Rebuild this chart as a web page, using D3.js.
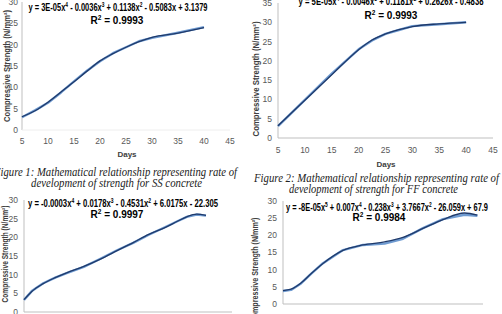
<!DOCTYPE html>
<html><head><meta charset="utf-8">
<script src="https://cdn.jsdelivr.net/npm/d3@7"></script>
<style>html,body{margin:0;padding:0;background:#fff;overflow:hidden}</style>
</head><body>
<svg id="c" width="502" height="314"></svg>
<script>
// ---- data ----
const yTicks30 = [0, 5, 10, 15, 20, 25, 30];
const yTicks35 = [0, 5, 10, 15, 20, 25, 30, 35];
const xTicks5to45 = [5, 10, 15, 20, 25, 30, 35, 40, 45];
const xTicks4 = [5, 10, 15, 20, 25, 30];

const ssDays  = [5, 7.5, 10, 12.5, 15, 17.5, 20, 22.5, 25, 27.5, 30, 35, 40];
const ssData  = [3.0, 4.6, 6.4, 8.8, 11.4, 13.9, 16.1, 18.0, 19.4, 20.8, 21.6, 22.8, 24.1];
const ssTrend = [3.1, 4.5, 6.5, 8.9, 11.3, 13.8, 16.2, 17.9, 19.4, 20.7, 21.7, 22.7, 24.0];

const ffDays  = [5, 10, 15, 20, 22.5, 25, 27.5, 30, 35, 40];
const ffData  = [3.1, 9.9, 16.7, 23.0, 25.3, 27.0, 28.0, 29.0, 29.5, 30.0];
const ffTrend = [3.2, 9.8, 16.4, 22.9, 25.4, 27.0, 28.1, 28.9, 29.6, 30.0];

const p3Days  = [5, 6.5, 8.7, 11, 13.2, 16.5, 19.6, 23, 26, 29, 32.4, 34.5, 36.3, 38.2, 40];
const p3Data  = [3.2, 5.6, 7.7, 9.2, 10.4, 12.1, 14.2, 16.6, 18.5, 20.7, 22.9, 24.3, 25.5, 26.1, 25.8];
const p3Trend = [3.3, 5.5, 7.6, 9.2, 10.5, 12.2, 14.1, 16.5, 18.6, 20.8, 22.8, 24.3, 25.5, 26.2, 25.9];

const p4Days  = [5, 6, 7.25, 8.5, 10, 12.5, 15, 17.7, 20, 22.5, 25, 27.7, 29.3];
const p4Data  = [3.8, 4.1, 6.0, 8.8, 11.9, 15.7, 17.2, 17.6, 19.0, 22.1, 24.7, 26.0, 25.7];
const p4Trend = [3.9, 4.3, 6.1, 8.8, 11.8, 15.6, 17.2, 18.1, 19.4, 22.0, 24.6, 26.5, 25.9];

const yLabel = "Compressive Strength (N/mm²)";
const eq1 = [["y = 3E-05x",""],["4","s"],[" - 0.0036x",""],["3","s"],[" + 0.1138x",""],["2","s"],[" - 0.5083x + 3.1379",""]];
const eq2 = [["y = 5E-05x",""],["4","s"],[" - 0.0046x",""],["3","s"],[" + 0.1181x",""],["2","s"],[" + 0.2626x - 0.4838",""]];
const eq3 = [["y = -0.0003x",""],["4","s"],[" + 0.0178x",""],["3","s"],[" - 0.4531x",""],["2","s"],[" + 6.0175x - 22.305",""]];
const eq4 = [["y = -8E-05x",""],["5","s"],[" + 0.007x",""],["4","s"],[" - 0.238x",""],["3","s"],[" + 3.7667x",""],["2","s"],[" - 26.059x + 67.9",""]];
const captions = [
  ["Figure 1:  Mathematical relationship representing rate of", "development of strength for SS concrete"],
  ["Figure 2:  Mathematical relationship representing rate of", "development of strength for FF concrete"]
];

const svg = d3.select("#c");
svg.append("rect").attr("width",502).attr("height",314).attr("fill","#fff");
const SANS = "'Liberation Sans Narrow','Liberation Sans',Arial,sans-serif";

function panel(c) {
  const x = d3.scaleLinear().domain(c.xd).range(c.xr);
  const y = d3.scaleLinear().domain(c.yd).range(c.yr);
  const g = svg.append("g");
  g.append("line").attr("x1",x(c.xd[0])).attr("x2",x(c.xd[0])).attr("y1",y(c.yd[1])).attr("y2",y(0))
    .attr("stroke","#bfbfbf").attr("stroke-width",1);
  g.append("line").attr("x1",x(c.xd[0])).attr("x2",x(c.xd[1])).attr("y1",y(0)).attr("y2",y(0))
    .attr("stroke", c.xLine).attr("stroke-width",1);
  g.selectAll(null).data(c.yt).enter().append("text")
    .attr("x", c.ylx).attr("y", d => y(d)).attr("dy","0.35em")
    .attr("text-anchor","end").attr("font-family",SANS).attr("font-size",8.5).attr("fill","#595959")
    .text(d => d);
  g.selectAll(null).data(c.xt).enter().append("text")
    .attr("x", d => x(d)).attr("y", c.xly).attr("dy","0.35em")
    .attr("text-anchor","middle").attr("font-family",SANS).attr("font-size",8.5).attr("fill","#595959")
    .text(d => d);
  if (c.days) g.append("text").attr("x",c.days[0]).attr("y",c.days[1]).attr("dy","0.35em")
    .attr("text-anchor","middle").attr("font-family",SANS).attr("font-size",8).attr("font-weight","bold")
    .attr("fill","#404040").text("Days");
  g.append("text").attr("transform",`translate(${c.yl[0]},${c.yl[1]}) rotate(-90)`).attr("dy","0.35em")
    .attr("text-anchor","middle").attr("font-family",SANS).attr("font-size",8.5).attr("font-weight","bold")
    .attr("fill","#404040").attr("textLength",c.yl[2]).attr("lengthAdjust","spacingAndGlyphs").text(yLabel);
  const lineData = d3.line().x(d => x(d[0])).y(d => y(d[1])).curve(d3.curveLinear);
  const lineTrend = d3.line().x(d => x(d[0])).y(d => y(d[1])).curve(d3.curveMonotoneX);
  g.append("path").datum(d3.zip(c.days_, c.data)).attr("d", lineData)
    .attr("fill","none").attr("stroke","#6f9bd1").attr("stroke-width",2.4).attr("stroke-linejoin","round");
  g.append("path").datum(d3.zip(c.days_, c.trend)).attr("d", lineTrend)
    .attr("fill","none").attr("stroke","#1f3a6b").attr("stroke-width",1.3);
  const t = g.append("text").attr("x",c.eq[0]).attr("y",c.eq[1]).attr("dy","0.35em")
    .attr("text-anchor","middle").attr("font-family",SANS).attr("font-size",10).attr("font-weight","bold")
    .attr("fill","#000").attr("textLength",c.eq[2]).attr("lengthAdjust","spacingAndGlyphs");
  let up = false;
  c.eqParts.forEach(p => {
    const ts = t.append("tspan").text(p[0]);
    if (p[1] === "s") { ts.attr("dy", -3.5).attr("font-size", 6.5); up = true; }
    else if (up) { ts.attr("dy", 3.5); up = false; }
  });
  const r = g.append("text").attr("x",c.r2[0]).attr("y",c.r2[1]).attr("dy","0.35em")
    .attr("text-anchor","middle").attr("font-family",SANS).attr("font-size",10).attr("font-weight","bold")
    .attr("fill","#000");
  r.append("tspan").text("R");
  r.append("tspan").text("2").attr("dy",-3.5).attr("font-size",6.5);
  r.append("tspan").text(" = " + c.r2[2]).attr("dy",3.5);
}

panel({xd:[5,45], xr:[22,230], yd:[0,30], yr:[130,2], yt:yTicks30, xt:xTicks5to45, ylx:18, xly:141,
  xLine:"#eeeeee", days:[127,154], yl:[7,66,112], days_:ssDays, data:ssData, trend:ssTrend,
  eq:[118,7,179], eqParts:eq1, r2:[117,20,"0.9993"]});
panel({xd:[5,45], xr:[278,493], yd:[0,35], yr:[138,3], yt:yTicks35, xt:xTicks5to45, ylx:272, xly:150,
  xLine:"#bfbfbf", days:[386,164], yl:[256,79,115], days_:ffDays, data:ffData, trend:ffTrend,
  eq:[391,1,185], eqParts:eq2, r2:[391,15,"0.9993"]});
panel({xd:[5,45], xr:[24,232], yd:[0,30], yr:[312,200], yt:yTicks30, xt:xTicks5to45, ylx:18, xly:323,
  xLine:"#bfbfbf", days:null, yl:[5,254,97], days_:p3Days, data:p3Data, trend:p3Trend,
  eq:[123,203,190], eqParts:eq3, r2:[117,214,"0.9997"]});
panel({xd:[5,30], xr:[283,483], yd:[0,30], yr:[304,201], yt:yTicks30, xt:xTicks4, ylx:277, xly:317,
  xLine:"#bfbfbf", days:null, yl:[255,270,105], days_:p4Days, data:p4Data, trend:p4Trend,
  eq:[387,207,202], eqParts:eq4, r2:[379,217,"0.9984"]});

const capPos = [
  [[-6,176,243],[31,187,171]],
  [[254,182,245],[289,193,169]]
];
captions.forEach((cap, i) => {
  cap.forEach((line, j) => {
    const p = capPos[i][j];
    svg.append("text").attr("x",p[0]).attr("y",p[1])
      .attr("font-family","'Liberation Serif','DejaVu Serif',serif").attr("font-style","italic")
      .attr("font-size",12).attr("fill","#222")
      .attr("textLength",p[2]).attr("lengthAdjust","spacingAndGlyphs").text(line);
  });
});
</script>
</body></html>
